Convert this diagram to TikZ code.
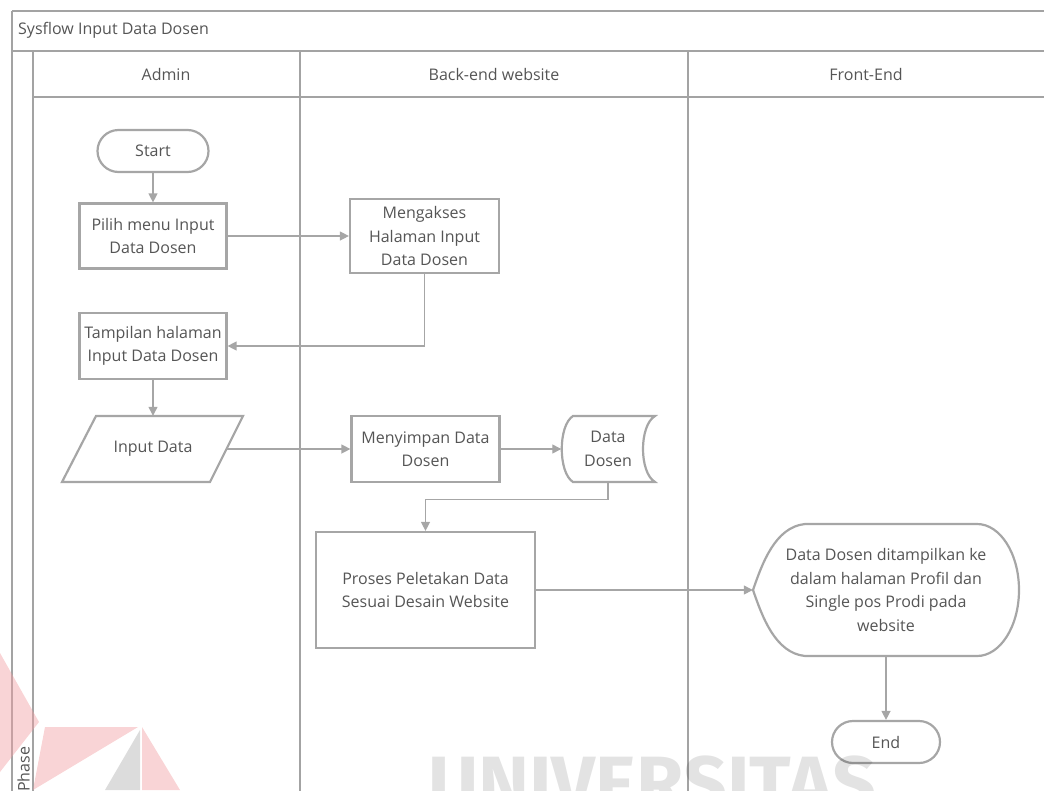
\documentclass[tikz,border=0pt]{standalone}
\usepackage{fontspec}
\setmainfont{Open Sans}
\newfontfamily\wmfont{Fira Sans}
\usetikzlibrary{arrows.meta}
\definecolor{lineg}{HTML}{A6A6A6}
\definecolor{laneg}{HTML}{A3A3A3}
\definecolor{txtg}{HTML}{555555}
\definecolor{wmpink}{HTML}{F2A0A3}

\begin{document}
\begin{tikzpicture}[x=1pt,y=-1pt,
  every node/.style={font=\fontsize{16}{23.5}\selectfont, text=txtg},
  box/.style={draw=lineg, line width=2.2pt, fill=white, align=center, inner sep=0pt},
  term/.style={box, rounded corners=21pt},
  shapeline/.style={draw=lineg, line width=2.2pt, fill=white},
  holder/.style={align=center, inner sep=0pt},
  flow/.style={draw=lineg, line width=1.3pt, -{Triangle[length=9pt,width=9pt]}},
  lane/.style={draw=laneg, line width=2.4pt},
]
\useasboundingbox (0,0) rectangle (1044,790);
\clip (0,0) rectangle (1044,790);

% swimlane frame
\draw[lane] (12,11) -- (1060,11);
\draw[lane] (12,11) -- (12,800);
\draw[lane] (12,51) -- (1060,51);
\draw[lane] (33,51) -- (33,800);
\draw[lane] (33,97) -- (1060,97);
\draw[lane] (300,51) -- (300,800);
\draw[lane] (688,51) -- (688,800);

\node[anchor=west, inner sep=0pt] (title) at (18,30) {Sysflow Input Data Dosen};
\node (hA) at (166,74) {Admin};
\node (hB) at (494,74) {Back-end website};
\node (hC) at (866,74) {Front-End};
\node[rotate=90, anchor=west, inner sep=0pt] (phase) at (23.5,792) {Phase};

% admin lane
\node[term, minimum width=111, minimum height=42] (start) at (153,151) {Start};
\node[box, minimum width=147, minimum height=65] (pilih) at (153,236) {Pilih menu Input\\Data Dosen};
\node[box, minimum width=147, minimum height=66] (tamp) at (153,346) {Tampilan halaman\\Input Data Dosen};
\draw[shapeline] (96,416) -- (243,416) -- (210,482) -- (62,482) -- cycle;
\node[holder, minimum width=147, minimum height=66] (inp) at (153,449) {Input Data};

% back-end lane
\node[box, minimum width=149, minimum height=74] (meng) at (424.5,236) {Mengakses\\Halaman Input\\Data Dosen};
\node[box, minimum width=148, minimum height=66] (meny) at (425.5,449) {Menyimpan Data\\Dosen};
\draw[shapeline] (573,416) -- (655,416) .. controls (639,425.5) and (639,472.5) .. (655,482)
  -- (573,482) .. controls (558,472.5) and (558,425.5) .. (573,416) -- cycle;
\node[holder, minimum width=93, minimum height=66] (dd) at (608,449) {Data\\Dosen};
\node[box, minimum width=219, minimum height=116] (proses) at (425.5,590) {Proses Peletakan Data\\Sesuai Desain Website};

% front-end lane
\draw[shapeline] (753,590) .. controls (762,564) and (775,527) .. (805,524) -- (977,524)
  .. controls (1000.2,524) and (1019,553.6) .. (1019,590)
  .. controls (1019,626.4) and (1000.2,656) .. (977,656) -- (805,656)
  .. controls (775,653) and (762,616) .. (753,590) -- cycle;
\node[holder, minimum width=266, minimum height=132] (disp) at (886,590) {Data Dosen ditampilkan ke\\dalam halaman Profil dan\\Single pos Prodi pada\\website};
\node[term, minimum width=108, minimum height=42] (end) at (886,742) {End};

% connectors
\draw[flow] (start) -- (pilih);
\draw[flow] (pilih.east) -- (meng.west);
\draw[flow] (meng.south) |- (tamp.east);
\draw[flow] (tamp) -- (inp);
\draw[flow] (inp.east) -- (meny.west);
\draw[flow] (meny.east) -- (dd.west);
\draw[flow] (dd.south) -- ++(0,17.5) -| (proses.north);
\draw[flow] (proses.east) -- (disp.west);
\draw[flow] (disp.south) -- (end.north);

% faint watermark
\begin{scope}[opacity=0.45]
  \fill[wmpink] (0,653) -- (39,722) -- (0,772) -- cycle;
  \fill[wmpink] (45,727) -- (138,727) -- (33,790) -- cycle;
  \fill[wmpink] (142,727) -- (180,790) -- (142,790) -- cycle;
  \fill[black!30] (140,730) -- (105,790) -- (140,790) -- cycle;
\end{scope}
\node[anchor=base west, inner sep=0pt, text=black, text opacity=0.11,
  font=\wmfont\bfseries\fontsize{77}{77}\selectfont] (wm) at (428,810) {UNIVERSITAS};
\end{tikzpicture}
\end{document}
